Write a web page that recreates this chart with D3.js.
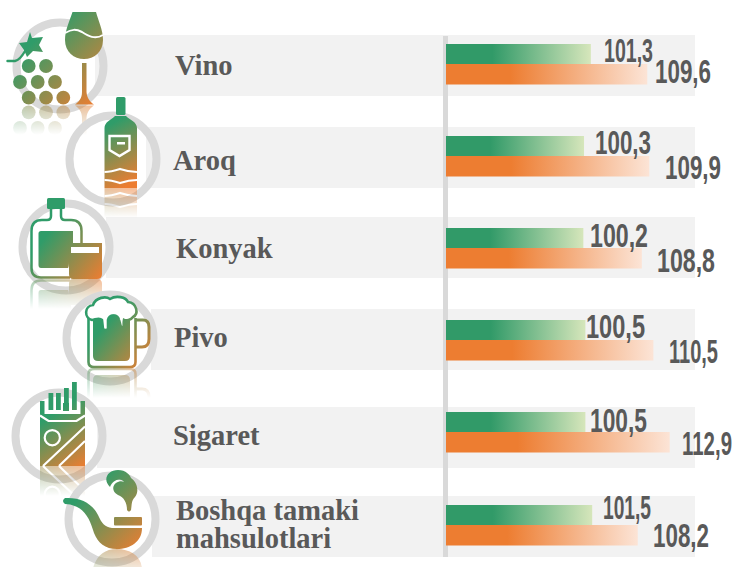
<!DOCTYPE html>
<html>
<head>
<meta charset="utf-8">
<script src="https://cdn.jsdelivr.net/npm/d3@7"></script>
<style>
  html, body { margin: 0; padding: 0; background: #fff; }
  svg { display: block; }
</style>
</head>
<body>
<div id="chart"></div>
<script>
// ------ Data ---------------//
var categories = ["Vino", "Aroq", "Konyak", "Pivo", "Sigaret", "Boshqa tamaki mahsulotlari"];
var greenValues = [101.3, 100.3, 100.2, 100.5, 100.5, 101.5];
var orangeValues = [109.6, 109.9, 108.8, 110.5, 112.9, 108.2];

// ------ Layout (row by row, the original is hand placed) ---------------//
var width = 732, height = 567;
var rowTop = [35, 127, 217, 309, 407, 496];
var rowLeft = [95, 146, 106, 151, 97, 152];
var barTop = [44, 136, 228, 320, 412, 505];
var ringX = [60, 113, 66, 110, 59, 112];
var ringY = [66, 159, 247, 338, 436, 519];
var iconBase = [105, 188, 279, 368, 466, 549];
var labelX = [175, 173, 176, 174, 173, 176];
var labelY = [75, 170, 258, 347, 445, 520];
var greenTextX = [604, 595, 590, 586, 590, 603];
var greenTextY = [62, 154, 247, 338, 432, 519];
var greenTextW = [49, 56, 58, 59, 57, 48];
var orangeTextX = [655, 665, 657, 669, 682, 653];
var orangeTextY = [83, 179, 272, 363, 455, 547];
var orangeTextW = [56, 56, 58, 49, 50, 56];

var rows = d3.range(categories.length);
var fmt = d3.formatLocale({decimal: ",", thousands: " ", grouping: [3], currency: ["", ""]}).format(".1f");

var svg = d3.select("#chart").append("svg")
    .attr("width", width)
    .attr("height", height);
var defs = svg.append("defs");

// ------ Scale ---------------//
var x = d3.scaleLinear().domain([80, 120]).range([446, 718]);

// ------ Gradients ---------------//
function barGradient(id, c1, c2) {
  var g = defs.append("linearGradient").attr("id", id);
  g.append("stop").attr("offset", "32%").attr("stop-color", c1);
  g.append("stop").attr("offset", "100%").attr("stop-color", c2);
}
barGradient("gradGreen", "#319a68", "#d6e6bb");
barGradient("gradOrange", "#ed7d31", "#fce4d6");

// ------ Background bands ---------------//
svg.append("g").selectAll("rect").data(rows).join("rect")
    .attr("x", d => rowLeft[d])
    .attr("y", d => rowTop[d])
    .attr("width", d => 695 - rowLeft[d])
    .attr("height", 61)
    .attr("fill", "#f2f2f2");

// ------ Icons ---------------//
// every icon is drawn in page coordinates, box is used for its gradient
var icons = [
  {box: [20, 20, 100, 100], draw: function(g, f) {
    g.append("path").attr("fill", f).attr("d", "M72.5 12L96 12C98 20 103 30 103 40C103 52 94 59 84 59C74 59 65 52 65 40C65 30 70 20 72.5 12Z");
    g.append("path").attr("fill", "none").attr("stroke", "#fff").attr("stroke-width", 2)
      .attr("d", "M65 33C72 29 76 29 82 32C88 36 95 40 103 35");
    g.append("path").attr("fill", f).attr("d", "M82 63L86.5 63L86.5 92C87 98 90 102 94 104.5L75 104.5C79 102 82 98 82 92Z");
    [[28.7, 66], [46, 66], [20, 82], [37.7, 82], [55, 82], [28.7, 97.7], [46, 97.7], [63.3, 97.7]].forEach(function(c) {
      g.append("circle").attr("cx", c[0]).attr("cy", c[1]).attr("r", 6.9).attr("fill", f);
    });
    g.append("path").attr("fill", f).attr("d", "M30 32L32 38L43 37L39 45L43 52L33 51L27 57L24 50L19 43L27 42Z");
    g.append("path").attr("fill", "none").attr("stroke", f).attr("stroke-width", 2.4).attr("stroke-linecap", "round")
      .attr("d", "M7.5 61L15 61Q20 60 25 51");
  }},
  {box: [100, 110, 138, 180], draw: function(g, f) {
    g.append("rect").attr("x", 116).attr("y", 97).attr("width", 9.5).attr("height", 18).attr("rx", 1.5).attr("fill", f);
    g.append("path").attr("fill", f).attr("d", "M115 116L126 116C130 120 137 122 137 128L137 188L104.5 188L104.5 128C104.5 122 111 120 115 116Z");
    g.append("path").attr("fill", "none").attr("stroke", "#fff").attr("stroke-width", 2.4)
      .attr("d", "M109.5 136L129.5 136L129.5 150L119.5 156L109.5 150Z");
    g.append("rect").attr("x", 117).attr("y", 142).attr("width", 8).attr("height", 2.5).attr("fill", "#fff");
    ["M104.5 172C110 172 114 171 120 169C126 171 131 172 137 172", "M104.5 180C110 180 114 181 120 183C126 181 131 180 137 180"].forEach(function(p) {
      g.append("path").attr("fill", "none").attr("stroke", "#fff").attr("stroke-width", 2.2).attr("d", p);
    });
  }},
  {box: [32, 222, 102, 278], draw: function(g, f) {
    g.append("rect").attr("x", 47).attr("y", 198).attr("width", 18).attr("height", 11).attr("rx", 1.5).attr("fill", f);
    g.append("path").attr("fill", "none").attr("stroke", f).attr("stroke-width", 2.5)
      .attr("d", "M51 209L51 216Q51 220 47 220L42 220Q31.5 220 31.5 231L31.5 268Q31.5 277.5 41 277.5L70 277.5M61 209L61 216Q61 220 65 220L71 220Q81.5 220 81.5 231L81.5 243");
    g.append("path").attr("fill", f).attr("d", "M41 231L73 231L73 243L69 243L69 262Q69 267 68 268L41 268Q38.5 268 38.5 265L38.5 233.5Q38.5 231 41 231Z");
    g.append("path").attr("fill", f).attr("d", "M69 243L102 243L102 274Q102 279 97 279L73 279Q69 279 69 274Z");
    g.append("rect").attr("x", 71).attr("y", 247).attr("width", 28).attr("height", 6).attr("fill", "#fff");
  }},
  {box: [88, 318, 148, 368], draw: function(g, f) {
    g.append("path").attr("fill", "none").attr("stroke", f).attr("stroke-width", 3)
      .attr("d", "M136 320L143 320Q149 320 149 327L149 339Q149 347 142 347L136 347");
    g.append("path").attr("fill", "none").attr("stroke", f).attr("stroke-width", 2.6)
      .attr("d", "M88.5 318L88.5 362Q88.5 367 94 367L130 367Q135.5 367 135.5 362L135.5 318");
    g.append("path").attr("fill", f).attr("d", "M93 320L130 320L130 356Q130 361 125 361L98 361Q93 361 93 356Z");
    g.append("path").attr("fill", "#fff").attr("stroke", f).attr("stroke-width", 2.6)
      .attr("d", "M92 320C84 318 84 306 93 305C96 297 106 296 110 299C116 295 126 297 128 302C137 303 139 314 133 317C131 320 126 321 124 320C123 325 125 327 122 327C120 327 120 322 119 320C118 314 109 314 108 320L108 329Q105 331 103 329L102 320C99 317 95 320 92 320Z");
    g.append("path").attr("fill", f).attr("d", "M108 319C109 313 118 313 119 319L119 323L108 323Z");
  }},
  {box: [40, 402, 85, 466], draw: function(g, f) {
    [[48.5, 393], [56, 393], [64, 388], [72, 382]].forEach(function(c) {
      g.append("rect").attr("x", c[0]).attr("y", c[1]).attr("width", 4.8).attr("height", 410 - c[1]).attr("fill", f);
    });
    g.append("rect").attr("x", 63).attr("y", 403).attr("width", 6).attr("height", 8).attr("fill", f);
    g.append("path").attr("fill", f).attr("d", "M40 401L44.5 401L44.5 414L80.5 414L80.5 401L85 401L85 466L40 466Z");
    g.append("path").attr("fill", "none").attr("stroke", "#fff").attr("stroke-width", 2.2)
      .attr("d", "M40 415.5L48.5 421L76.5 421L85 415.5");
    g.append("circle").attr("cx", 52.3).attr("cy", 437.7).attr("r", 7.6).attr("fill", "none").attr("stroke", "#fff").attr("stroke-width", 2.2);
    g.append("path").attr("fill", "none").attr("stroke", "#fff").attr("stroke-width", 2.2)
      .attr("d", "M43 466L85 426.5M59 466L85 441");
  }},
  {box: [70, 475, 142, 549], draw: function(g, f) {
    g.append("path").attr("fill", f).attr("d", "M65 498C80 497 92 503 98 515C102 524 105 527 112 528L142 528C142 542 130 549 117 549C105 549 98 543 94 533C90 520 85 505 65 504Q61 501 65 498Z");
    g.append("rect").attr("x", 114).attr("y", 517).attr("width", 28).attr("height", 8.5).attr("rx", 1).attr("fill", f);
    g.append("path").attr("fill", f).attr("d", "M110 487C102 479 108 470 118 470C126 470 130 475 131 478C138 483 139 492 135 497C131 501 132 505 131 510Q129 513 127 510C127 503 124 497 118 495C112 492 112 486 116 483C119 481 122 481 124 482C120 477 113 480 110 487Z");
  }}
];

function iconGradient(i) {
  var b = icons[i].box;
  var g = defs.append("linearGradient").attr("id", "icon" + i)
      .attr("gradientUnits", "userSpaceOnUse")
      .attr("x1", b[0]).attr("y1", b[1]).attr("x2", b[2]).attr("y2", b[3]);
  g.append("stop").attr("offset", "22%").attr("stop-color", "#2f9c69");
  g.append("stop").attr("offset", "100%").attr("stop-color", "#ed7d31");
}

var iconLayer = svg.append("g");

rows.forEach(function(i) {
  iconGradient(i);
  var fill = "url(#icon" + i + ")";
  var base = iconBase[i];

  // ring sits under the icon, white disc is not needed
  iconLayer.append("circle")
      .attr("cx", ringX[i]).attr("cy", ringY[i]).attr("r", 43.5)
      .attr("fill", "none").attr("stroke", "#d9d9d9").attr("stroke-width", 8);

  var grp = iconLayer.append("g").attr("id", "shape" + i);
  icons[i].draw(grp, fill);

  // reflection under the icon
  var fade = defs.append("linearGradient").attr("id", "fade" + i)
      .attr("gradientUnits", "userSpaceOnUse")
      .attr("x1", 0).attr("y1", base).attr("x2", 0).attr("y2", base + 30);
  fade.append("stop").attr("offset", "0%").attr("stop-color", "#fff").attr("stop-opacity", 0.5);
  fade.append("stop").attr("offset", "100%").attr("stop-color", "#fff").attr("stop-opacity", 0);
  defs.append("mask").attr("id", "mask" + i)
      .attr("maskUnits", "userSpaceOnUse")
      .attr("x", 0).attr("y", base).attr("width", width).attr("height", 31)
    .append("rect")
      .attr("x", 0).attr("y", base).attr("width", width).attr("height", 31)
      .attr("fill", "url(#fade" + i + ")");
  iconLayer.append("g").attr("mask", "url(#mask" + i + ")")
    .append("use")
      .attr("href", "#shape" + i)
      .attr("transform", `translate(0,${2 * base}) scale(1,-1)`);
});

// ------ Axis line ---------------//
svg.append("rect")
    .attr("x", 443).attr("y", 36)
    .attr("width", 5).attr("height", 521)
    .attr("fill", "#d9d9d9");

// ------ Bars ---------------//
svg.append("g").selectAll("rect").data(greenValues).join("rect")
    .attr("x", x(80))
    .attr("y", (d, i) => barTop[i])
    .attr("width", d => x(d) - x(80))
    .attr("height", 20)
    .attr("fill", "url(#gradGreen)");

svg.append("g").selectAll("rect").data(orangeValues).join("rect")
    .attr("x", x(80))
    .attr("y", (d, i) => barTop[i] + 20)
    .attr("width", d => x(d) - x(80))
    .attr("height", 20.5)
    .attr("fill", "url(#gradOrange)");

// ------ Value labels ---------------//
function valueLabels(values, xs, ys, ws) {
  svg.append("g").selectAll("text").data(values).join("text")
      .attr("x", (d, i) => xs[i])
      .attr("y", (d, i) => ys[i])
      .attr("textLength", (d, i) => ws[i])
      .attr("lengthAdjust", "spacingAndGlyphs")
      .attr("font-family", "'Liberation Sans Narrow', 'Liberation Sans', sans-serif")
      .attr("font-weight", "bold")
      .attr("font-size", 34)
      .attr("fill", "#595959")
      .text(d => fmt(d));
}
valueLabels(greenValues, greenTextX, greenTextY, greenTextW);
valueLabels(orangeValues, orangeTextX, orangeTextY, orangeTextW);

// ------ Category labels ---------------//
function wrapCategory(name) {
  return name.indexOf("Boshqa") === 0 ? ["Boshqa tamaki", "mahsulotlari"] : [name];
}
svg.append("g").selectAll("text").data(categories).join("text")
    .attr("y", (d, i) => labelY[i])
    .attr("font-family", "'Liberation Serif', serif")
    .attr("font-weight", "bold")
    .attr("font-size", 28.5)
    .attr("fill", "#595959")
    .each(function(d, i) {
      var t = d3.select(this);
      wrapCategory(d).forEach(function(line, n) {
        t.append("tspan")
            .attr("x", labelX[i])
            .attr("dy", n ? 28 : 0)
            .text(line);
      });
    });
</script>
</body>
</html>
